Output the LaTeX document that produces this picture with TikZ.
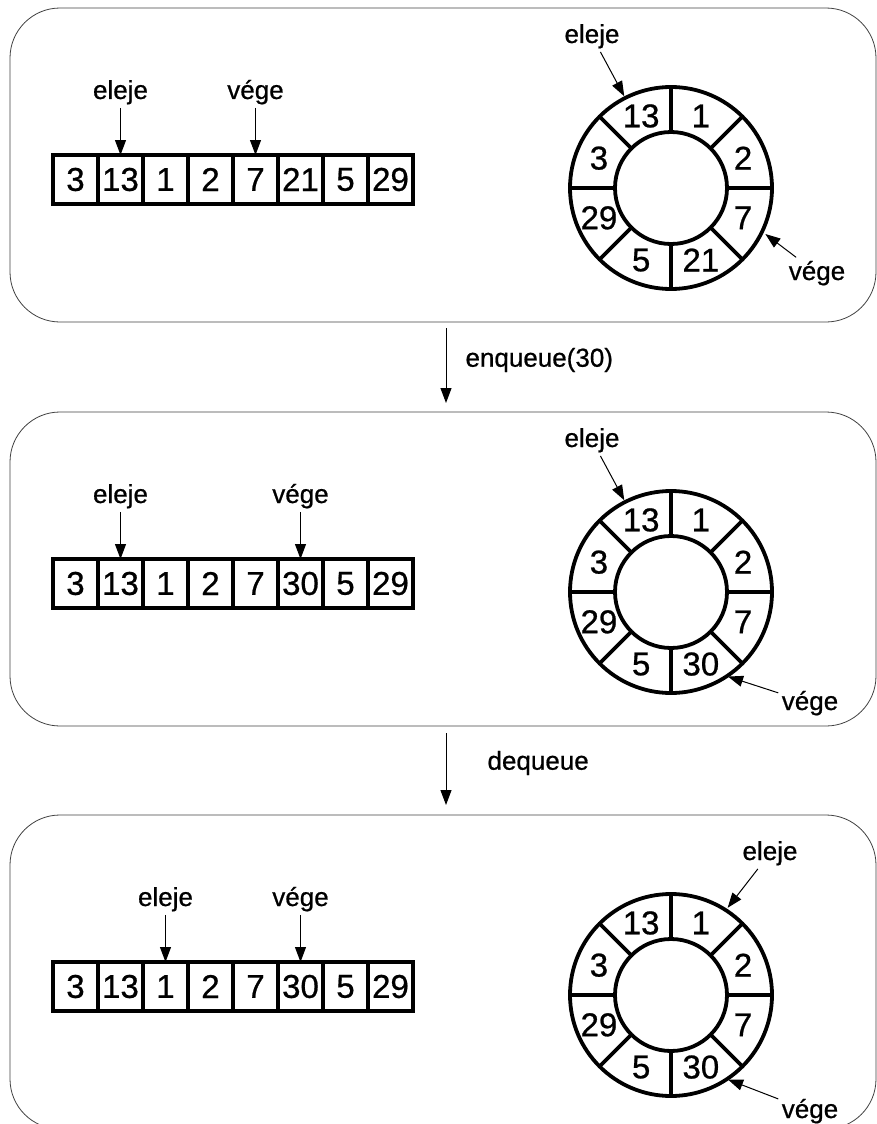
\documentclass[tikz,border=0pt]{standalone}
\usepackage{fontspec}
\setmainfont{Liberation Sans}[FakeBold=0.7]
\usetikzlibrary{arrows.meta}

\begin{document}
\begin{tikzpicture}[x=1pt, y=-1pt,
    cimke/.style={font=\fontsize{26}{30}\selectfont, anchor=base},
    cella/.style={draw, line width=3.8pt, minimum width=45pt, minimum height=49pt,
        inner sep=0pt, outer sep=0pt, font=\fontsize{33}{37}\selectfont},
    ertek/.style={font=\fontsize{33}{37}\selectfont, inner sep=0pt},
    mutato/.style={-{Triangle[length=15pt, width=11pt]}, line width=1pt},
    keret/.style={draw=black!75, line width=0.8pt, rounded corners=50pt}]
    \clip (0,0) rectangle (877,1124);

    % harom allapot: sorszam / eltolas / uj elem / eleje / vege
    \foreach \p/\dy/\uj/\e/\v in {1/0/21/2/5, 2/404/30/2/6, 3/807/30/3/6} {
        % keret
        \draw[keret] (10,8+\dy) rectangle (876,322+\dy);

        % tomb
        \foreach \t [count=\i] in {3,13,1,2,7,\uj,5,29}
            \node[cella] (t\p-\i) at (30.5+45*\i, 179.5+\dy) {\t};
        \node[cimke] (eleje\p) at (30.5+45*\e, 99+\dy) {eleje};
        \node[cimke] (vege\p) at (30.5+45*\v, 99+\dy) {vége};
        \draw[mutato] (eleje\p) -- (t\p-\e.north);
        \draw[mutato] (vege\p) -- (t\p-\v.north);

        % gyuru
        \coordinate (k\p) at (671, 188+\dy);
        \draw[line width=3.8pt] (k\p) circle[radius=101pt] (k\p) circle[radius=56pt];
        \foreach \a in {0,45,...,315}
            \draw[line width=3.8pt] ([shift={(\a:56pt)}]k\p) -- ([shift={(\a:101pt)}]k\p);
        \foreach \t [count=\i] in {13,1,2,7,\uj,5,29,3}
            \node[ertek] (g\p-\i) at ([shift={(157.5-45*\i:78pt)}]k\p) {\t};
    }

    % mutatok a gyurun
    \node[cimke] (ge1) at (592,43) {eleje};
    \node[cimke] (gv1) at (817,280) {vége};
    \coordinate (ce1) at ([shift={(117:103pt)}]k1);
    \coordinate (cv1) at ([shift={(-26:105pt)}]k1);
    \draw[mutato] (ge1) -- (ce1);
    \draw[mutato] (gv1) -- (cv1);

    \node[cimke] (ge2) at (592,447) {eleje};
    \node[cimke] (gv2) at (810,710) {vége};
    \coordinate (ce2) at ([shift={(117:103pt)}]k2);
    \coordinate (cv2) at ([shift={(-56:102pt)}]k2);
    \draw[mutato] (ge2) -- (ce2);
    \draw[mutato] (gv2) -- (cv2);

    \node[cimke] (ge3) at (770,860) {eleje};
    \node[cimke] (gv3) at (810,1118) {vége};
    \coordinate (ce3) at ([shift={(57:104pt)}]k3);
    \coordinate (cv3) at ([shift={(-56:102pt)}]k3);
    \draw[mutato] (ge3) -- (ce3);
    \draw[mutato] (gv3) -- (cv3);

    % muveletek
    \coordinate (n1) at (446,328);
    \coordinate (n2) at (446,403);
    \draw[mutato] (n1) -- (n2);
    \node[cimke, anchor=west] (enq) at (462,360) {enqueue(30)};

    \coordinate (n3) at (446,733);
    \coordinate (n4) at (446,805);
    \draw[mutato] (n3) -- (n4);
    \node[cimke, anchor=west] (deq) at (484,763) {dequeue};
\end{tikzpicture}
\end{document}
